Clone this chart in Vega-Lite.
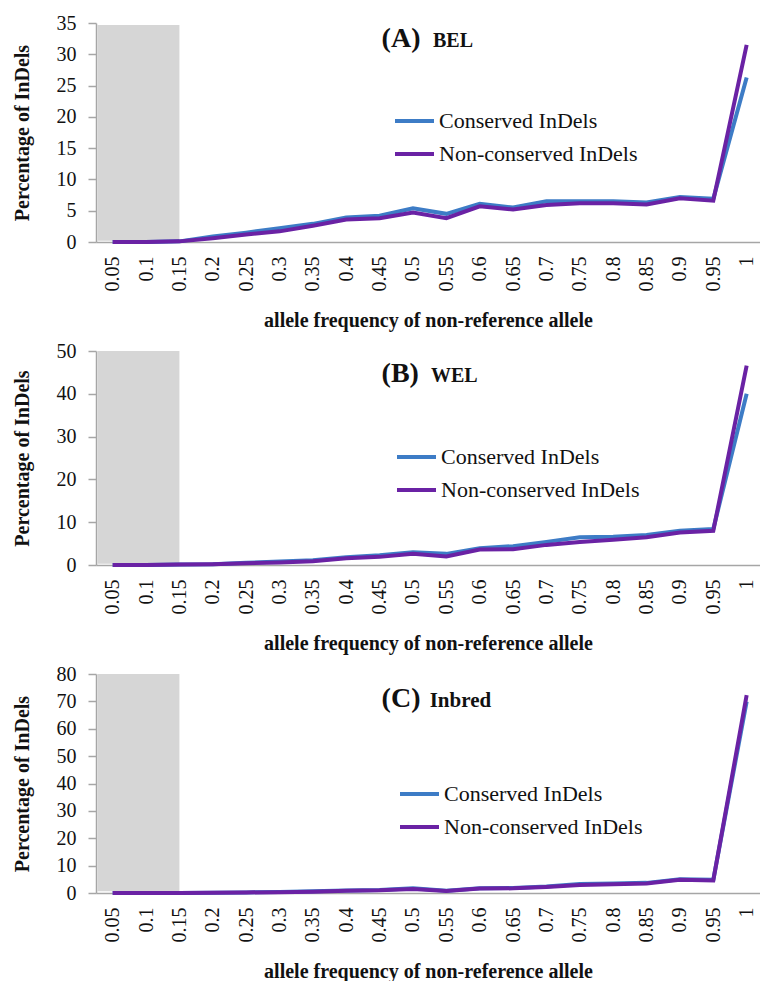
{
  "$schema": "https://vega.github.io/schema/vega-lite/v6.json",
  "padding": {"left": 12, "top": 13, "right": 0, "bottom": 0},
  "background": "white",
  "config": {
    "view": {"stroke": null},
    "font": "Liberation Serif",
    "style": {"guide-label": {"font": "Liberation Serif"}, "guide-title": {"font": "Liberation Serif"}},
    "axis": {"grid": false, "labelFont": "Liberation Serif", "labelFontSize": 20, "labelColor": "#111", "labelOverlap": false, "labelFlush": false,
      "titleFont": "Liberation Serif", "titleFontSize": 20, "titleFontWeight": "bold", "titleColor": "#111",
      "domainColor": "#a6a6a6", "domainWidth": 1.5, "tickColor": "#a6a6a6", "tickWidth": 1.5},
    "axisX": {"labelAngle": -90, "ticks": false, "labelPadding": 14, "titlePadding": 19, "labelBound": false, "format": "~g"},
    "axisY": {"tickSize": 8, "labelPadding": 12, "titlePadding": 24},
    "legend": {"orient": "none", "labelFont": "Liberation Serif", "labelFontSize": 22, "labelColor": "#111", "labelLimit": 0, "labelOffset": 3,
      "symbolType": "stroke", "symbolSize": 1521, "symbolStrokeWidth": 4, "rowPadding": -16, "padding": 0}
  },
  "datasets": {
    "bel": [
      {"f": 0.05, "Conserved InDels": 0, "Non-conserved InDels": 0},
      {"f": 0.1, "Conserved InDels": 0, "Non-conserved InDels": 0},
      {"f": 0.15, "Conserved InDels": 0.1, "Non-conserved InDels": 0.1},
      {"f": 0.2, "Conserved InDels": 0.9, "Non-conserved InDels": 0.6},
      {"f": 0.25, "Conserved InDels": 1.5, "Non-conserved InDels": 1.2},
      {"f": 0.3, "Conserved InDels": 2.2, "Non-conserved InDels": 1.7},
      {"f": 0.35, "Conserved InDels": 2.9, "Non-conserved InDels": 2.6},
      {"f": 0.4, "Conserved InDels": 3.9, "Non-conserved InDels": 3.6},
      {"f": 0.45, "Conserved InDels": 4.2, "Non-conserved InDels": 3.8},
      {"f": 0.5, "Conserved InDels": 5.4, "Non-conserved InDels": 4.7},
      {"f": 0.55, "Conserved InDels": 4.5, "Non-conserved InDels": 3.8},
      {"f": 0.6, "Conserved InDels": 6.1, "Non-conserved InDels": 5.7},
      {"f": 0.65, "Conserved InDels": 5.5, "Non-conserved InDels": 5.2},
      {"f": 0.7, "Conserved InDels": 6.5, "Non-conserved InDels": 5.9},
      {"f": 0.75, "Conserved InDels": 6.5, "Non-conserved InDels": 6.2},
      {"f": 0.8, "Conserved InDels": 6.5, "Non-conserved InDels": 6.2},
      {"f": 0.85, "Conserved InDels": 6.3, "Non-conserved InDels": 6.0},
      {"f": 0.9, "Conserved InDels": 7.2, "Non-conserved InDels": 7.0},
      {"f": 0.95, "Conserved InDels": 6.9, "Non-conserved InDels": 6.6},
      {"f": 1, "Conserved InDels": 26.3, "Non-conserved InDels": 31.5}
    ],
    "wel": [
      {"f": 0.05, "Conserved InDels": 0, "Non-conserved InDels": 0},
      {"f": 0.1, "Conserved InDels": 0, "Non-conserved InDels": 0},
      {"f": 0.15, "Conserved InDels": 0.1, "Non-conserved InDels": 0.1},
      {"f": 0.2, "Conserved InDels": 0.2, "Non-conserved InDels": 0.2},
      {"f": 0.25, "Conserved InDels": 0.5, "Non-conserved InDels": 0.4},
      {"f": 0.3, "Conserved InDels": 0.8, "Non-conserved InDels": 0.6},
      {"f": 0.35, "Conserved InDels": 1.1, "Non-conserved InDels": 0.9},
      {"f": 0.4, "Conserved InDels": 1.8, "Non-conserved InDels": 1.6},
      {"f": 0.45, "Conserved InDels": 2.3, "Non-conserved InDels": 1.9},
      {"f": 0.5, "Conserved InDels": 3.0, "Non-conserved InDels": 2.6},
      {"f": 0.55, "Conserved InDels": 2.6, "Non-conserved InDels": 2.0},
      {"f": 0.6, "Conserved InDels": 3.9, "Non-conserved InDels": 3.6},
      {"f": 0.65, "Conserved InDels": 4.4, "Non-conserved InDels": 3.7},
      {"f": 0.7, "Conserved InDels": 5.4, "Non-conserved InDels": 4.7},
      {"f": 0.75, "Conserved InDels": 6.5, "Non-conserved InDels": 5.4},
      {"f": 0.8, "Conserved InDels": 6.6, "Non-conserved InDels": 5.9},
      {"f": 0.85, "Conserved InDels": 7.0, "Non-conserved InDels": 6.5},
      {"f": 0.9, "Conserved InDels": 8.0, "Non-conserved InDels": 7.6},
      {"f": 0.95, "Conserved InDels": 8.4, "Non-conserved InDels": 8.0},
      {"f": 1, "Conserved InDels": 40.0, "Non-conserved InDels": 46.6}
    ],
    "inbred": [
      {"f": 0.05, "Conserved InDels": 0, "Non-conserved InDels": 0},
      {"f": 0.1, "Conserved InDels": 0, "Non-conserved InDels": 0},
      {"f": 0.15, "Conserved InDels": 0, "Non-conserved InDels": 0},
      {"f": 0.2, "Conserved InDels": 0.1, "Non-conserved InDels": 0.1},
      {"f": 0.25, "Conserved InDels": 0.2, "Non-conserved InDels": 0.2},
      {"f": 0.3, "Conserved InDels": 0.4, "Non-conserved InDels": 0.3},
      {"f": 0.35, "Conserved InDels": 0.6, "Non-conserved InDels": 0.5},
      {"f": 0.4, "Conserved InDels": 0.9, "Non-conserved InDels": 0.8},
      {"f": 0.45, "Conserved InDels": 1.1, "Non-conserved InDels": 1.0},
      {"f": 0.5, "Conserved InDels": 1.7, "Non-conserved InDels": 1.5},
      {"f": 0.55, "Conserved InDels": 0.8, "Non-conserved InDels": 0.7},
      {"f": 0.6, "Conserved InDels": 1.7, "Non-conserved InDels": 1.6},
      {"f": 0.65, "Conserved InDels": 1.8, "Non-conserved InDels": 1.7},
      {"f": 0.7, "Conserved InDels": 2.4, "Non-conserved InDels": 2.2},
      {"f": 0.75, "Conserved InDels": 3.3, "Non-conserved InDels": 2.9},
      {"f": 0.8, "Conserved InDels": 3.5, "Non-conserved InDels": 3.2},
      {"f": 0.85, "Conserved InDels": 3.7, "Non-conserved InDels": 3.5},
      {"f": 0.9, "Conserved InDels": 5.0, "Non-conserved InDels": 4.8},
      {"f": 0.95, "Conserved InDels": 4.8, "Non-conserved InDels": 4.6},
      {"f": 1, "Conserved InDels": 69.9, "Non-conserved InDels": 72.3}
    ]
  },
  "spacing": 11,
  "resolve": {"scale": {"color": "independent"}, "legend": {"color": "independent"}},
  "vconcat": [
    {
      "width": 664, "height": 219,
      "layer": [
        {
          "data": {"values": [{}]},
          "mark": {"type": "rect", "color": "#d6d6d6"},
          "encoding": {
            "x": {"datum": 0.027, "type": "quantitative", "scale": {"domain": [0.025, 1.02], "nice": false, "zero": false},
              "axis": {"title": "allele frequency of non-reference allele", "values": [0.05,0.1,0.15,0.2,0.25,0.3,0.35,0.4,0.45,0.5,0.55,0.6,0.65,0.7,0.75,0.8,0.85,0.9,0.95,1]}},
            "x2": {"datum": 0.15},
            "y": {"datum": 0.2, "type": "quantitative", "scale": {"domain": [0, 35], "nice": false},
              "axis": {"title": "Percentage of InDels", "values": [0,5,10,15,20,25,30,35]}},
            "y2": {"datum": 34.7}
          }
        },
        {
          "data": {"name": "bel"},
          "transform": [{"fold": ["Conserved InDels", "Non-conserved InDels"]}],
          "mark": {"type": "line", "strokeWidth": 4},
          "encoding": {
            "x": {"field": "f", "type": "quantitative",
              "axis": {"title": "allele frequency of non-reference allele", "values": [0.05,0.1,0.15,0.2,0.25,0.3,0.35,0.4,0.45,0.5,0.55,0.6,0.65,0.7,0.75,0.8,0.85,0.9,0.95,1]}},
            "y": {"field": "value", "type": "quantitative",
              "axis": {"title": "Percentage of InDels", "values": [0,5,10,15,20,25,30,35]}},
            "color": {"field": "key", "type": "nominal",
              "scale": {"domain": ["Conserved InDels", "Non-conserved InDels"], "range": ["#3d7cc6", "#6a22a4"]},
              "legend": {"legendX": 297, "legendY": 76.5, "title": null}}
          }
        },
        {
          "data": {"values": [{}]},
          "mark": {"type": "text", "font": "Liberation Serif", "fontWeight": "bold", "fontSize": 28, "align": "left", "baseline": "alphabetic", "color": "#111"},
          "encoding": {
            "x": {"datum": 0.453, "type": "quantitative", "axis": {"title": "allele frequency of non-reference allele", "values": [0.05,0.1,0.15,0.2,0.25,0.3,0.35,0.4,0.45,0.5,0.55,0.6,0.65,0.7,0.75,0.8,0.85,0.9,0.95,1]}},
            "y": {"datum": 31.2, "type": "quantitative", "axis": {"title": "Percentage of InDels", "values": [0,5,10,15,20,25,30,35]}},
            "text": {"value": "(A)"}}
        },
        {
          "data": {"values": [{}]},
          "mark": {"type": "text", "font": "Liberation Serif", "fontWeight": "bold", "fontSize": 20, "align": "left", "baseline": "alphabetic", "color": "#111"},
          "encoding": {
            "x": {"datum": 0.53, "type": "quantitative", "axis": {"title": "allele frequency of non-reference allele", "values": [0.05,0.1,0.15,0.2,0.25,0.3,0.35,0.4,0.45,0.5,0.55,0.6,0.65,0.7,0.75,0.8,0.85,0.9,0.95,1]}},
            "y": {"datum": 31.2, "type": "quantitative", "axis": {"title": "Percentage of InDels", "values": [0,5,10,15,20,25,30,35]}},
            "text": {"value": "BEL"}}
        }
      ]
    },
    {
      "width": 664, "height": 214,
      "layer": [
        {
          "data": {"values": [{}]},
          "mark": {"type": "rect", "color": "#d6d6d6"},
          "encoding": {
            "x": {"datum": 0.027, "type": "quantitative", "scale": {"domain": [0.025, 1.02], "nice": false, "zero": false},
              "axis": {"title": "allele frequency of non-reference allele", "values": [0.05,0.1,0.15,0.2,0.25,0.3,0.35,0.4,0.45,0.5,0.55,0.6,0.65,0.7,0.75,0.8,0.85,0.9,0.95,1]}},
            "x2": {"datum": 0.15},
            "y": {"datum": 0.3, "type": "quantitative", "scale": {"domain": [0, 50], "nice": false},
              "axis": {"title": "Percentage of InDels", "values": [0,10,20,30,40,50]}},
            "y2": {"datum": 50}
          }
        },
        {
          "data": {"name": "wel"},
          "transform": [{"fold": ["Conserved InDels", "Non-conserved InDels"]}],
          "mark": {"type": "line", "strokeWidth": 4},
          "encoding": {
            "x": {"field": "f", "type": "quantitative",
              "axis": {"title": "allele frequency of non-reference allele", "values": [0.05,0.1,0.15,0.2,0.25,0.3,0.35,0.4,0.45,0.5,0.55,0.6,0.65,0.7,0.75,0.8,0.85,0.9,0.95,1]}},
            "y": {"field": "value", "type": "quantitative",
              "axis": {"title": "Percentage of InDels", "values": [0,10,20,30,40,50]}},
            "color": {"field": "key", "type": "nominal",
              "scale": {"domain": ["Conserved InDels", "Non-conserved InDels"], "range": ["#3d7cc6", "#6a22a4"]},
              "legend": {"legendX": 299, "legendY": 84.5, "title": null}}
          }
        },
        {
          "data": {"values": [{}]},
          "mark": {"type": "text", "font": "Liberation Serif", "fontWeight": "bold", "fontSize": 28, "align": "left", "baseline": "alphabetic", "color": "#111"},
          "encoding": {
            "x": {"datum": 0.453, "type": "quantitative", "axis": {"title": "allele frequency of non-reference allele", "values": [0.05,0.1,0.15,0.2,0.25,0.3,0.35,0.4,0.45,0.5,0.55,0.6,0.65,0.7,0.75,0.8,0.85,0.9,0.95,1]}},
            "y": {"datum": 42.8, "type": "quantitative", "axis": {"title": "Percentage of InDels", "values": [0,10,20,30,40,50]}},
            "text": {"value": "(B)"}}
        },
        {
          "data": {"values": [{}]},
          "mark": {"type": "text", "font": "Liberation Serif", "fontWeight": "bold", "fontSize": 20, "align": "left", "baseline": "alphabetic", "color": "#111"},
          "encoding": {
            "x": {"datum": 0.527, "type": "quantitative", "axis": {"title": "allele frequency of non-reference allele", "values": [0.05,0.1,0.15,0.2,0.25,0.3,0.35,0.4,0.45,0.5,0.55,0.6,0.65,0.7,0.75,0.8,0.85,0.9,0.95,1]}},
            "y": {"datum": 42.8, "type": "quantitative", "axis": {"title": "Percentage of InDels", "values": [0,10,20,30,40,50]}},
            "text": {"value": "WEL"}}
        }
      ]
    },
    {
      "width": 664, "height": 219,
      "layer": [
        {
          "data": {"values": [{}]},
          "mark": {"type": "rect", "color": "#d6d6d6"},
          "encoding": {
            "x": {"datum": 0.027, "type": "quantitative", "scale": {"domain": [0.025, 1.02], "nice": false, "zero": false},
              "axis": {"title": "allele frequency of non-reference allele", "values": [0.05,0.1,0.15,0.2,0.25,0.3,0.35,0.4,0.45,0.5,0.55,0.6,0.65,0.7,0.75,0.8,0.85,0.9,0.95,1]}},
            "x2": {"datum": 0.15},
            "y": {"datum": 0.6, "type": "quantitative", "scale": {"domain": [0, 80], "nice": false},
              "axis": {"title": "Percentage of InDels", "values": [0,10,20,30,40,50,60,70,80]}},
            "y2": {"datum": 80}
          }
        },
        {
          "data": {"name": "inbred"},
          "transform": [{"fold": ["Conserved InDels", "Non-conserved InDels"]}],
          "mark": {"type": "line", "strokeWidth": 4},
          "encoding": {
            "x": {"field": "f", "type": "quantitative",
              "axis": {"title": "allele frequency of non-reference allele", "values": [0.05,0.1,0.15,0.2,0.25,0.3,0.35,0.4,0.45,0.5,0.55,0.6,0.65,0.7,0.75,0.8,0.85,0.9,0.95,1]}},
            "y": {"field": "value", "type": "quantitative",
              "axis": {"title": "Percentage of InDels", "values": [0,10,20,30,40,50,60,70,80]}},
            "color": {"field": "key", "type": "nominal",
              "scale": {"domain": ["Conserved InDels", "Non-conserved InDels"], "range": ["#3d7cc6", "#6a22a4"]},
              "legend": {"legendX": 302, "legendY": 98.5, "title": null}}
          }
        },
        {
          "data": {"values": [{}]},
          "mark": {"type": "text", "font": "Liberation Serif", "fontWeight": "bold", "fontSize": 28, "align": "left", "baseline": "alphabetic", "color": "#111"},
          "encoding": {
            "x": {"datum": 0.453, "type": "quantitative", "axis": {"title": "allele frequency of non-reference allele", "values": [0.05,0.1,0.15,0.2,0.25,0.3,0.35,0.4,0.45,0.5,0.55,0.6,0.65,0.7,0.75,0.8,0.85,0.9,0.95,1]}},
            "y": {"datum": 67.9, "type": "quantitative", "axis": {"title": "Percentage of InDels", "values": [0,10,20,30,40,50,60,70,80]}},
            "text": {"value": "(C)"}}
        },
        {
          "data": {"values": [{}]},
          "mark": {"type": "text", "font": "Liberation Serif", "fontWeight": "bold", "fontSize": 21, "align": "left", "baseline": "alphabetic", "color": "#111"},
          "encoding": {
            "x": {"datum": 0.525, "type": "quantitative", "axis": {"title": "allele frequency of non-reference allele", "values": [0.05,0.1,0.15,0.2,0.25,0.3,0.35,0.4,0.45,0.5,0.55,0.6,0.65,0.7,0.75,0.8,0.85,0.9,0.95,1]}},
            "y": {"datum": 67.9, "type": "quantitative", "axis": {"title": "Percentage of InDels", "values": [0,10,20,30,40,50,60,70,80]}},
            "text": {"value": "Inbred"}}
        }
      ]
    }
  ]
}
